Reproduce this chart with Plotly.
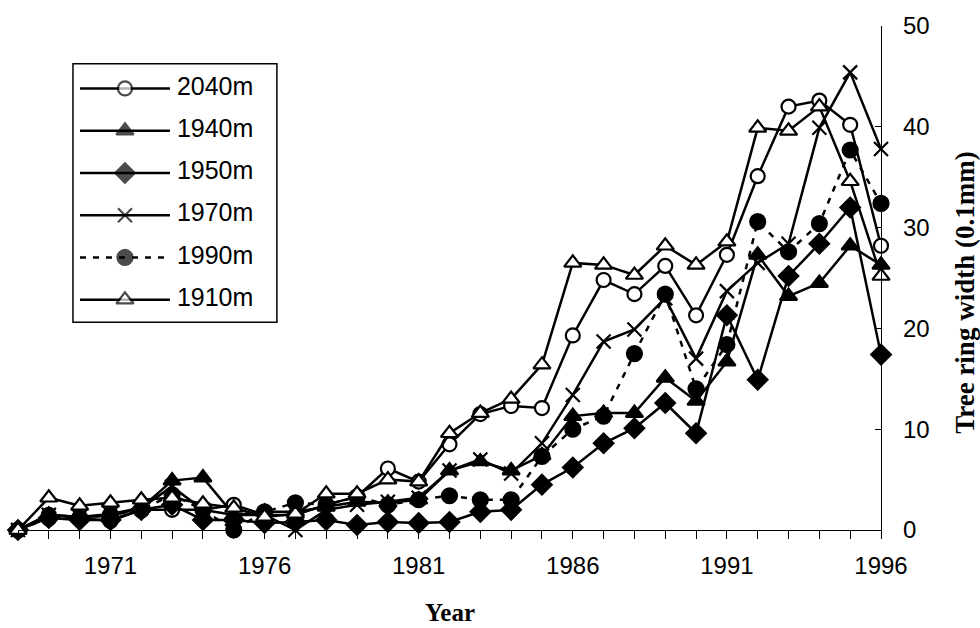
import plotly.graph_objects as go

# Tree ring width (0.1 mm) by year for six elevations
years = list(range(1968, 1997))

w_2040 = [0, 1.5, 1.2, 0.9, 2.0, 2.0, 2.0, 2.5, 1.5, 1.5, 2.5, 3.3, 6.1, 4.8, 8.5,
          11.5, 12.3, 12.1, 19.3, 24.8, 23.4, 26.2, 21.3, 27.3, 35.1, 42.0, 42.6, 40.2, 28.2]
w_1940 = [0, 1.5, 1.3, 1.4, 2.2, 4.9, 5.2, 1.5, 1.8, 1.8, 2.3, 2.8, 2.7, 3.0, 5.9,
          6.8, 5.9, 7.4, 11.3, 11.6, 11.6, 15.1, 12.8, 16.7, 27.3, 23.2, 24.5, 28.2, 26.3]
w_1950 = [0, 1.2, 1.0, 1.0, 2.0, 2.5, 1.0, 1.0, 0.7, 0.8, 1.0, 0.5, 0.8, 0.7, 0.8,
          1.8, 2.0, 4.5, 6.2, 8.6, 10.1, 12.6, 9.6, 21.3, 14.9, 25.2, 28.4, 32.0, 17.4]
w_1970 = [0, 1.5, 1.3, 1.6, 2.2, 4.3, 2.0, 1.5, 1.5, 0.0, 2.0, 2.5, 2.8, 3.2, 5.9,
          7.0, 5.6, 8.6, 13.4, 18.7, 19.9, 23.0, 17.0, 23.7, 26.5, 28.4, 39.9, 45.4, 37.8]
w_1990 = [0, 1.2, 1.2, 1.5, 2.0, 3.5, 2.0, 0.0, 1.8, 2.7, 2.5, 3.3, 2.5, 3.0, 3.4,
          3.0, 3.0, 7.3, 10.0, 11.3, 17.5, 23.4, 14.0, 18.4, 30.6, 27.6, 30.4, 37.7, 32.4]
w_1910 = [0, 3.2, 2.4, 2.7, 3.0, 3.2, 2.6, 2.2, 1.3, 1.6, 3.6, 3.6, 5.0, 4.8, 9.6,
          11.6, 13.0, 16.4, 26.5, 26.3, 25.3, 28.2, 26.3, 28.6, 39.9, 39.6, 42.0, 34.6, 25.2]

series_names = ["2040m", "1940m", "1950m", "1970m", "1990m", "1910m"]
series_values = [w_2040, w_1940, w_1950, w_1970, w_1990, w_1910]

x_tick_labels = [1971, 1976, 1981, 1986, 1991, 1996]
y_tick_labels = [0, 10, 20, 30, 40, 50]

# marker symbol, fill, size, line dash for each series
styles = {
    "2040m": dict(symbol="circle", fill="white", size=14, dash="solid"),
    "1940m": dict(symbol="triangle-up", fill="black", size=15, dash="solid"),
    "1950m": dict(symbol="diamond", fill="black", size=15, dash="solid"),
    "1970m": dict(symbol="x-thin", fill="black", size=14, dash="solid"),
    "1990m": dict(symbol="circle", fill="black", size=15, dash="6px,7px"),
    "1910m": dict(symbol="triangle-up", fill="white", size=15, dash="solid"),
}

TEXT_FONT = "Liberation Sans, Arial, sans-serif"
TITLE_FONT = "Liberation Serif, Times New Roman, serif"
LINE_W = 2.5

fig = go.Figure()

for name, vals in zip(series_names, series_values):
    st = styles[name]
    fig.add_trace(go.Scatter(
        x=years, y=vals, name=name, mode="lines+markers",
        line=dict(color="black", width=LINE_W, dash=st["dash"]),
        marker=dict(symbol=st["symbol"], size=st["size"], color=st["fill"],
                    line=dict(color="black", width=2.2)),
        cliponaxis=False, showlegend=False,
    ))

# Boxed key drawn on its own small axes pair (row i at y=i)
for i, name in enumerate(series_names):
    st = styles[name]
    fig.add_trace(go.Scatter(
        x=[0, 0.5, 1], y=[i, i, i], mode="lines+markers+text",
        text=["", "", " " + name], textposition="middle right",
        textfont=dict(family=TEXT_FONT, size=25, color="black"),
        line=dict(color="black", width=LINE_W, dash=st["dash"]),
        marker=dict(symbol=st["symbol"], size=[0, st["size"], 0], color=st["fill"],
                    line=dict(color="black", width=2.2)),
        xaxis="x2", yaxis="y2", cliponaxis=False, showlegend=False,
    ))

fig.update_layout(
    width=980, height=628,
    margin=dict(l=18, r=99, t=20, b=98),
    paper_bgcolor="white", plot_bgcolor="white",
    xaxis=dict(
        range=[1968, 1996], tickvals=x_tick_labels, ticktext=[str(v) for v in x_tick_labels],
        showline=True, linecolor="black", linewidth=1.2,
        ticks="outside", ticklen=8, tickcolor="black", tickwidth=1.2,
        minor=dict(dtick=1, tick0=1968, ticks="outside", ticklen=8,
                   tickcolor="black", tickwidth=1.2),
        showgrid=False, zeroline=False,
        tickfont=dict(family=TEXT_FONT, size=24, color="black"),
        ticklabelstandoff=6,
    ),
    yaxis=dict(
        range=[0, 50], tickvals=y_tick_labels, side="right",
        showline=True, linecolor="black", linewidth=1.2,
        ticks="inside", ticklen=6, tickcolor="black", tickwidth=1.2,
        showgrid=False, zeroline=False,
        tickfont=dict(family=TEXT_FONT, size=24, color="black"),
        ticklabelstandoff=16,
    ),
    xaxis2=dict(domain=[0.0718, 0.1761], range=[0, 1], anchor="y2",
                visible=False, fixedrange=True),
    yaxis2=dict(domain=[0.415, 0.918], range=[5.5, -0.5], anchor="x2",
                visible=False, fixedrange=True),
    shapes=[dict(type="rect", xref="paper", yref="paper",
                 x0=0.0637, x1=0.300, y0=0.412, y1=0.925,
                 line=dict(color="black", width=1.5), fillcolor="rgba(0,0,0,0)")],
    annotations=[
        dict(text="<b>Year</b>", xref="paper", yref="paper", x=0.5, y=-0.163,
             showarrow=False, xanchor="center", yanchor="middle",
             font=dict(family=TITLE_FONT, size=25, color="black")),
        dict(text="<b>Tree ring width (0.1mm)</b>", xref="paper", yref="paper",
             x=1.097, y=0.47, textangle=-90, showarrow=False,
             xanchor="center", yanchor="middle",
             font=dict(family=TITLE_FONT, size=27, color="black")),
    ],
)

fig.write_html("out.html")
